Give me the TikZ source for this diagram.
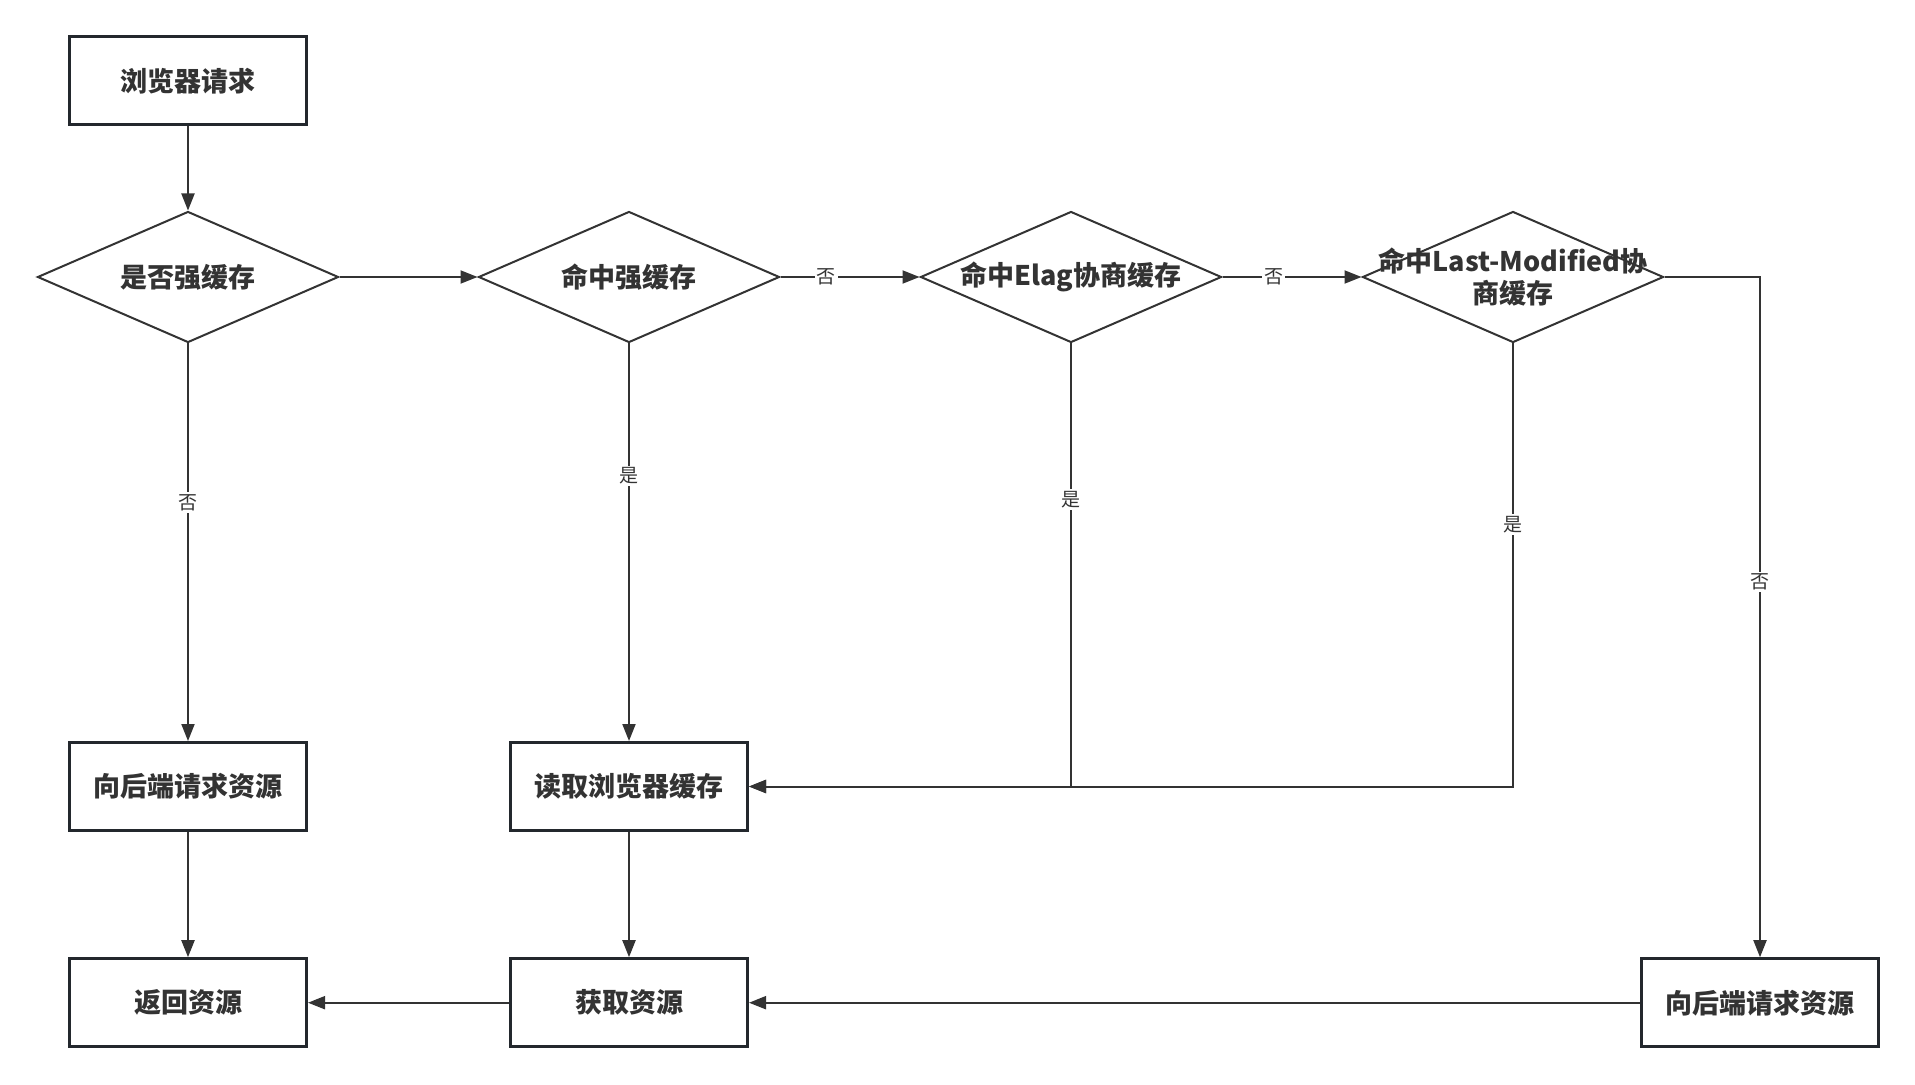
\documentclass[tikz,border=0pt]{standalone}
\usepackage{fontspec}
\setmainfont{Noto Sans CJK SC}
\usetikzlibrary{shapes.geometric,arrows.meta}
\definecolor{ln}{HTML}{333333}
\definecolor{bd}{HTML}{23282D}
\begin{document}
\begin{tikzpicture}[x=0.5pt,y=-0.5pt,
  box/.style={draw=bd,line width=1.5pt,minimum width=118.5pt,minimum height=44pt,inner sep=0pt,font=\fontsize{13.5pt}{16pt}\selectfont\bfseries,text=ln},
  dia/.style={draw=ln,line width=1pt,diamond,minimum width=150.5pt,minimum height=65.5pt,inner sep=0pt},
  dtext/.style={font=\fontsize{13.5pt}{16pt}\selectfont\bfseries,text=ln,align=center},
  arr/.style={draw=ln,line width=1pt,-{Triangle[length=8.5pt,width=6.5pt]}},
  lab/.style={fill=white,inner sep=1pt,font=\fontsize{9.5pt}{11pt}\selectfont,text=ln}
]
\useasboundingbox[fill=white] (0,0) rectangle (1915,1085);
\node[box] (b1) at (188,81) {浏览器请求};
\node[dia] (d1) at (188,277) {};
\node[dtext] (t1) at (188,277) {是否强缓存};
\node[dia] (d2) at (629,277) {};
\node[dtext] (t2) at (629,277) {命中强缓存};
\node[dia] (d3) at (1071,277) {};
\node[dtext] (t3) at (1071,277) {命中Elag协商缓存};
\node[dia] (d4) at (1513,277) {};
\node[dtext] (t4) at (1513,277.5) {命中Last-Modified协\\商缓存};
\node[box] (lb) at (188,786.5) {向后端请求资源};
\node[box] (cache) at (629,786.5) {读取浏览器缓存};
\node[box] (ret) at (188,1002.7) {返回资源};
\node[box] (get) at (629,1002.7) {获取资源};
\node[box] (rb) at (1760,1002.7) {向后端请求资源};

\draw[arr] (b1.south) -- (d1.north);
\draw[arr] (d1.east) -- (d2.west);
\draw[arr] (d2.east) -- node[lab,pos=0.33] {否} (d3.west);
\draw[arr] (d3.east) -- node[lab,pos=0.37] {否} (d4.west);
\draw[arr] (d4.east) -| node[lab,pos=0.724] {否} (rb.north);
\draw[arr] (d1.south) -- node[lab,pos=0.4] {否} (lb.north);
\draw[arr] (d2.south) -- node[lab,pos=0.333] {是} (cache.north);
\draw[arr] (d3.south) |- node[lab,pos=0.176] {是} (cache.east);
\draw[arr] (d4.south) |- node[lab,pos=0.204] {是} (cache.east);
\draw[arr] (lb.south) -- (ret.north);
\draw[arr] (cache.south) -- (get.north);
\draw[arr] (get.west) -- (ret.east);
\draw[arr] (rb.west) -- (get.east);
\end{tikzpicture}
\end{document}
